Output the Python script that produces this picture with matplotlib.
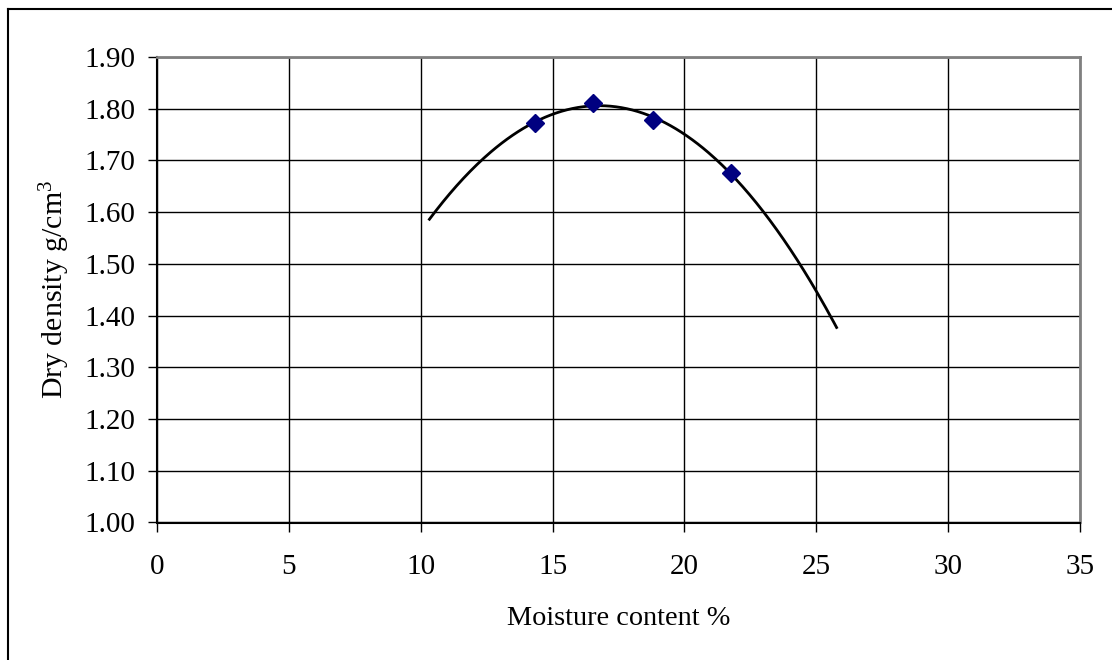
import numpy as np
import matplotlib
matplotlib.use("Agg")
import matplotlib.pyplot as plt
from matplotlib.lines import Line2D

# Compaction test results
moisture = [14.33, 16.52, 18.82, 21.77]      # %
dry_density = [1.772, 1.812, 1.778, 1.675]    # g/cm3

x_ticks = [0, 5, 10, 15, 20, 25, 30, 35]
y_ticks = [1.00, 1.10, 1.20, 1.30, 1.40, 1.50, 1.60, 1.70, 1.80, 1.90]

plt.rcParams["font.family"] = ["Liberation Serif", "DejaVu Serif"]
plt.rcParams["mathtext.fontset"] = "custom"
plt.rcParams["mathtext.rm"] = "Liberation Serif"
plt.rcParams["mathtext.it"] = "Liberation Serif:italic"

fig = plt.figure(figsize=(11.12, 6.6), dpi=100)
ax = fig.add_axes([157 / 1112, 1 - 522.5 / 660, (1080 - 157) / 1112, (522.5 - 57) / 660])

# second-order polynomial trendline, extended 4 units both ways
coef = np.polyfit(moisture, dry_density, 2)
xs = np.linspace(min(moisture) - 4, max(moisture) + 4, 300)
ax.plot(xs, np.polyval(coef, xs), color="black", lw=2.0, zorder=3)

ax.plot(moisture, dry_density, linestyle="none", marker="D", markersize=9.5,
        color="#000080", markeredgecolor="#000080", zorder=4)

ax.set_xlim(0, 35)
ax.set_ylim(1.0, 1.9)
ax.set_xticks(x_ticks)
ax.set_yticks(y_ticks)
ax.set_xticklabels([str(v) for v in x_ticks])
ax.set_yticklabels([f"{v:.2f}" for v in y_ticks])
ax.grid(True, color="black", lw=1.0)
ax.set_axisbelow(True)

ax.tick_params(axis="both", direction="out", length=6.5, width=1.0,
               colors="black", labelsize=21)
ax.tick_params(axis="y", pad=9)
ax.tick_params(axis="x", pad=16)

for side in ("left", "bottom"):
    ax.spines[side].set_color("black")
    ax.spines[side].set_linewidth(1.5)
for side in ("top", "right"):
    ax.spines[side].set_color("#808080")
    ax.spines[side].set_linewidth(2.0)

ax.set_xlabel("Moisture content %", fontsize=20.3, labelpad=19)
ax.set_ylabel(r"Dry density g/cm$^3$", fontsize=21.5, labelpad=9)

# chart frame
fig.add_artist(Line2D([8 / 1112, 1.0], [1 - 9 / 660, 1 - 9 / 660],
                      transform=fig.transFigure, color="black", lw=1.5))
fig.add_artist(Line2D([8 / 1112, 8 / 1112], [0.0, 1 - 9 / 660],
                      transform=fig.transFigure, color="black", lw=1.5))

fig.savefig("out.png", dpi=100, facecolor="white")
